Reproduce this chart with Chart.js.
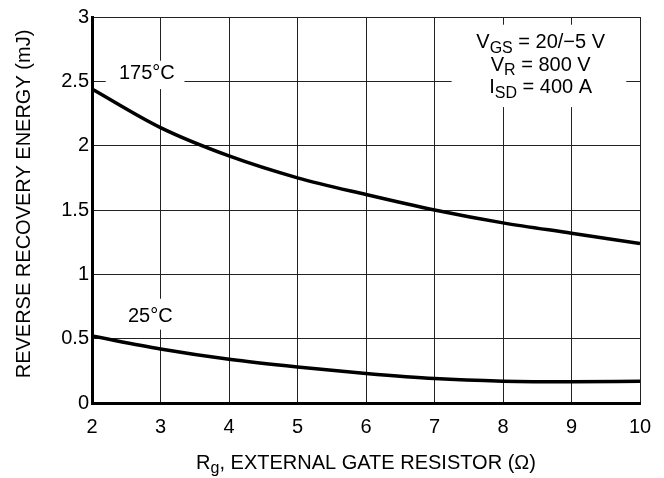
<!DOCTYPE html>
<html>
<head>
<meta charset="utf-8">
<script src="https://cdn.jsdelivr.net/npm/chart.js@4.4.1/dist/chart.umd.min.js"></script>
<style>
  html, body { margin: 0; padding: 0; background: #fff; }
  #wrap { width: 664px; height: 478px; }
</style>
</head>
<body>
<div id="wrap"><canvas id="chart"></canvas></div>
<script>
// gate resistor values (ohm)
const RG = [2, 3, 4, 5, 6, 7, 8, 9, 10];
// reverse recovery energy (mJ)
const E_175 = [2.44, 2.14, 1.92, 1.75, 1.62, 1.50, 1.40, 1.32, 1.24];
const E_25 = [0.52, 0.42, 0.34, 0.28, 0.23, 0.19, 0.17, 0.165, 0.17];

const X_TICKS = [2, 3, 4, 5, 6, 7, 8, 9, 10];
const Y_TICKS = [0, 0.5, 1, 1.5, 2, 2.5, 3];

const FONT = '"Liberation Sans", Arial, Helvetica, sans-serif';
const SIZE = 20;

function toPoints(xs, ys) {
    return xs.map((x, i) => ({ x: x, y: ys[i] }));
}

// draw text with a subscript part: parts = [[text, isSub], ...]
function drawRich(ctx, parts, cx, cy, size) {
    const subSize = Math.round(size * 0.8);
    let total = 0;
    parts.forEach(p => {
        ctx.font = (p[1] ? subSize : size) + 'px ' + FONT;
        total += ctx.measureText(p[0]).width;
    });
    let x = cx - total / 2;
    ctx.textAlign = 'left';
    ctx.textBaseline = 'middle';
    parts.forEach(p => {
        ctx.font = (p[1] ? subSize : size) + 'px ' + FONT;
        ctx.fillText(p[0], x, p[1] ? cy + size * 0.28 : cy);
        x += ctx.measureText(p[0]).width;
    });
}

function whiteBox(ctx, xs, ys, x0, x1, y0, y1) {
    const l = xs.getPixelForValue(x0), r = xs.getPixelForValue(x1);
    const t = ys.getPixelForValue(y1), b = ys.getPixelForValue(y0);
    ctx.fillRect(l, t, r - l, b - t);
}

const labelsPlugin = {
    id: 'labels',
    beforeDatasetsDraw(chart) {
        const ctx = chart.ctx;
        const xs = chart.scales.x, ys = chart.scales.y;
        ctx.save();
        ctx.fillStyle = '#fff';
        // white boxes behind the labels
        whiteBox(ctx, xs, ys, 2.2, 3.35, 2.44, 2.66);
        whiteBox(ctx, xs, ys, 2.45, 3.3, 0.57, 0.81);
        whiteBox(ctx, xs, ys, 7.25, 9.8, 2.3, 2.94);
        ctx.fillStyle = '#000';
        ctx.textAlign = 'center';
        ctx.textBaseline = 'middle';
        ctx.font = SIZE + 'px ' + FONT;
        ctx.fillText('175°C', xs.getPixelForValue(2.8), ys.getPixelForValue(2.56));
        ctx.fillText('25°C', xs.getPixelForValue(2.85), ys.getPixelForValue(0.67));
        const cx = xs.getPixelForValue(8.55);
        drawRich(ctx, [['V', false], ['GS', true], [' = 20/\u22125 V', false]], cx, ys.getPixelForValue(2.8), SIZE);
        drawRich(ctx, [['V', false], ['R', true], [' = 800 V', false]], cx, ys.getPixelForValue(2.625), SIZE);
        drawRich(ctx, [['I', false], ['SD', true], [' = 400 A', false]], cx, ys.getPixelForValue(2.45), SIZE);
        ctx.restore();
    },
    afterDraw(chart) {
        const ctx = chart.ctx;
        const area = chart.chartArea;
        ctx.save();
        ctx.fillStyle = '#000';
        drawRich(ctx, [['R', false], ['g', true], [', EXTERNAL GATE RESISTOR (\u03A9)', false]], (area.left + area.right) / 2, 463, SIZE);
        ctx.translate(24, 204);
        ctx.rotate(-Math.PI / 2);
        ctx.font = SIZE + 'px ' + FONT;
        ctx.textAlign = 'center';
        ctx.textBaseline = 'middle';
        ctx.fillText('REVERSE RECOVERY ENERGY (mJ)', 0, 0);
        ctx.restore();
    }
};

const ctx = document.getElementById('chart').getContext('2d');
new Chart(ctx, {
    type: 'scatter',
    data: {
        datasets: [
            {
                label: '175°C',
                data: toPoints(RG, E_175),
                showLine: true,
                borderColor: '#000',
                borderWidth: 3.5,
                pointRadius: 0,
                cubicInterpolationMode: 'monotone'
            },
            {
                label: '25°C',
                data: toPoints(RG, E_25),
                showLine: true,
                borderColor: '#000',
                borderWidth: 3.5,
                pointRadius: 0,
                cubicInterpolationMode: 'monotone'
            }
        ]
    },
    options: {
        responsive: true,
        maintainAspectRatio: false,
        animation: false,
        layout: { padding: { left: 0, top: 17, right: 24, bottom: 0 } },
        plugins: {
            legend: { display: false },
            tooltip: { enabled: false }
        },
        scales: {
            x: {
                type: 'linear',
                min: 2,
                max: 10,
                afterBuildTicks: axis => { axis.ticks = X_TICKS.map(v => ({ value: v })); },
                afterFit: axis => { axis.height = 75; },
                grid: { color: '#222', lineWidth: 1, drawTicks: false },
                border: { color: '#000', width: 3 },
                ticks: { color: '#000', padding: 12, font: { family: FONT, size: SIZE }, callback: v => String(v) }
            },
            y: {
                type: 'linear',
                min: 0,
                max: 3,
                afterBuildTicks: axis => { axis.ticks = Y_TICKS.map(v => ({ value: v })); },
                afterFit: axis => { axis.width = 92; },
                grid: { color: '#222', lineWidth: 1, drawTicks: false },
                border: { color: '#000', width: 3 },
                ticks: { color: '#000', padding: 3, font: { family: FONT, size: SIZE }, callback: v => String(v) }
            }
        }
    },
    plugins: [labelsPlugin]
});
</script>
</body>
</html>
